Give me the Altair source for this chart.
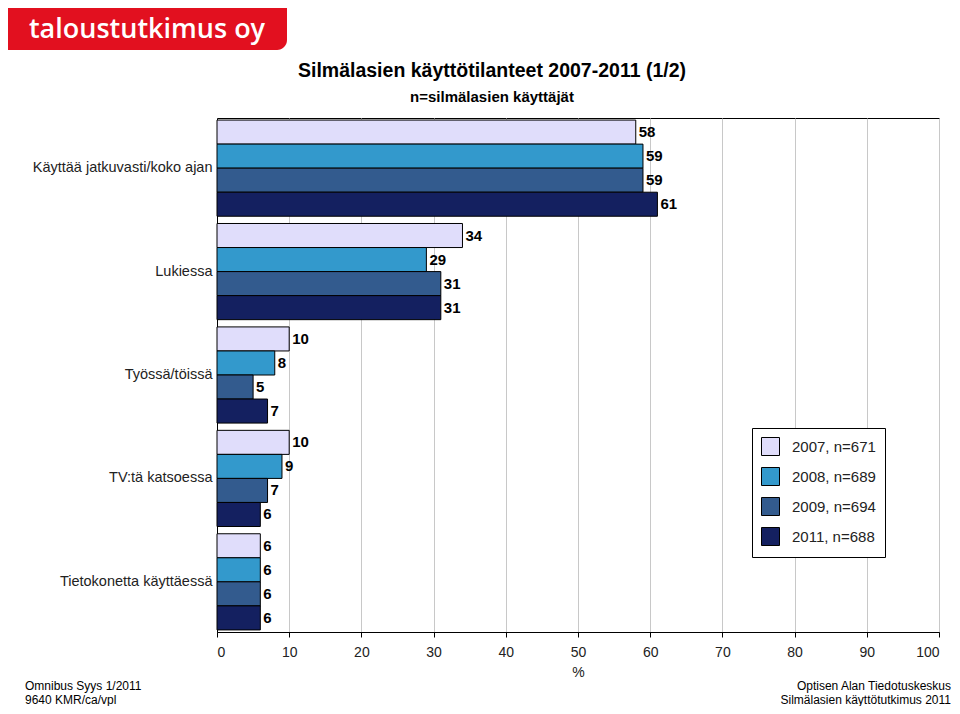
import altair as alt
import pandas as pd

categories = ["Käyttää jatkuvasti/koko ajan", "Lukiessa", "Työssä/töissä",
              "TV:tä katsoessa", "Tietokonetta käyttäessä"]
series = ["2007, n=671", "2008, n=689", "2009, n=694", "2011, n=688"]
v2007 = [58, 34, 10, 10, 6]
v2008 = [59, 29, 8, 9, 6]
v2009 = [59, 31, 5, 7, 6]
v2011 = [61, 31, 7, 6, 6]
colors = ["#E0DDFB", "#3399CC", "#335B8E", "#142060"]
xticks = list(range(0, 101, 10))

rows = []
for s, vals in zip(series, [v2007, v2008, v2009, v2011]):
    for c, v in zip(categories, vals):
        rows.append({"cat": c, "series": s, "value": v})
df = pd.DataFrame(rows)

FONT = "Liberation Sans"

y = alt.Y("cat:N", sort=categories,
          scale=alt.Scale(paddingInner=0.07, paddingOuter=0.02),
          axis=alt.Axis(title=None, ticks=False, labelPadding=5, labelFontSize=14.5,
                        labelColor="#222", domainColor="black", labelLimit=300, grid=False))
yoff = alt.YOffset("series:N", sort=series, scale=alt.Scale(paddingInner=0, paddingOuter=0))
x = alt.X("value:Q", scale=alt.Scale(domain=[0, 100]),
          axis=alt.Axis(values=xticks, title="%", titleFontSize=14, titleFontWeight="normal",
                        titleColor="#222", titlePadding=6, labelFontSize=14, labelColor="#222",
                        labelPadding=8, tickColor="black", tickSize=5, domainColor="black",
                        gridColor="#c8c8c8", grid=True))

base = alt.Chart(df)
bars = base.mark_bar(stroke="black", strokeWidth=1).encode(
    x=x, y=y, yOffset=yoff,
    color=alt.Color("series:N", sort=series,
                    scale=alt.Scale(domain=series, range=colors),
                    legend=alt.Legend(title=None, orient="none", legendX=535, legendY=310,
                                      padding=9, strokeColor="black", fillColor="white",
                                      symbolType="square", symbolSize=324,
                                      symbolStrokeColor="black", symbolStrokeWidth=1,
                                      symbolOpacity=1, labelFontSize=15, labelOffset=12,
                                      rowPadding=7, labelColor="#222")),
)
labels = base.mark_text(align="left", dx=3, fontWeight="bold", fontSize=15, color="black",
                        font=FONT).encode(x="value:Q", y=y, yOffset=yoff, text="value:Q")

one = pd.DataFrame({"a": [0]})


def deco_text(txt, px, py, size, weight="normal", align="center", color="#000",
              font=FONT, baseline="middle"):
    return alt.Chart(one).mark_text(align=align, baseline=baseline, fontSize=size,
                                    fontWeight=weight, color=color, font=font).encode(
        x=alt.value(px), y=alt.value(py), text=alt.value(txt))


logo = alt.Chart(one).mark_rect(color="#E2101F", cornerRadiusBottomRight=10).encode(
    x=alt.value(-212), x2=alt.value(70), y=alt.value(-116), y2=alt.value(-68))
logo_txt = deco_text("taloustutkimus oy", -70, -80, 27, 600, color="white",
                     font="Open Sans", baseline="alphabetic")
title = deco_text("Silmälasien käyttötilanteet 2007-2011 (1/2)", 275, -47, 19.5, "bold")
subtitle = deco_text("n=silmälasien käyttäjät", 275, -21, 15, "bold")
f1 = deco_text("Omnibus Syys 1/2011", -192, 568, 12, align="left")
f2 = deco_text("9640 KMR/ca/vpl", -192, 582, 12, align="left")
f3 = deco_text("Optisen Alan Tiedotuskeskus", 734, 568, 12, align="right")
f4 = deco_text("Silmälasien käyttötutkimus 2011", 734, 582, 12, align="right")

chart = alt.layer(bars, labels, logo, logo_txt, title, subtitle, f1, f2, f3, f4).properties(
    width=722, height=514,
    autosize=alt.AutoSizeParams(type="none"),
    padding={"left": 209, "top": 110, "right": 13, "bottom": 74},
    background="white",
).configure(font=FONT).configure_view(stroke="black", strokeWidth=1)

chart.save("out.html", embed_options={"renderer": "svg", "actions": False})
